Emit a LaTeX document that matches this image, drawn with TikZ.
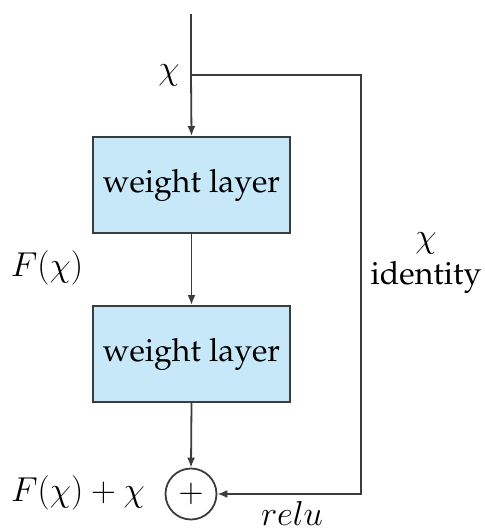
\documentclass[tikz,border=0pt]{standalone}
\usepackage[T1]{fontenc}
\renewcommand{\rmdefault}{ppl}
\usetikzlibrary{arrows.meta}
\definecolor{boxfill}{RGB}{199,232,248}
\definecolor{linegray}{RGB}{60,60,60}
\begin{document}
\begin{tikzpicture}[x=0.5pt,y=-0.5pt,
  conn/.style={draw=linegray,line width=0.9pt},
  arr/.style={conn,-{Latex[length=5pt,width=4pt]}},
  wbox/.style={draw=linegray,line width=1pt,fill=boxfill,minimum width=98.5pt,minimum height=48pt,inner sep=0pt,font=\fontsize{16}{18}\selectfont},
  sumnode/.style={draw=linegray,line width=0.9pt,circle,minimum size=25.5pt,inner sep=0pt,font=\fontsize{17}{19}\selectfont},
  lbl/.style={font=\fontsize{17}{19}\selectfont,inner sep=0pt}]
\useasboundingbox (0,0) rectangle (484,530);
\coordinate (top) at (191,14);
\coordinate (j) at (191,75);
\coordinate (tr) at (361,75);
\coordinate (br) at (361,494);
\node[wbox] (b1) at (191.5,185) {weight layer};
\node[wbox] (b2) at (191.5,354) {weight layer};
\node[sumnode] (s) at (191,494) {$+$};
\draw[conn] (top) -- (j);
\draw[arr] (j) -- (b1.north);
\draw[arr] (b1.south) -- (b2.north);
\draw[arr] (b2.south) -- (s.north);
\draw[arr] (j) -- (tr) -- (br) -- (s.east);
\node[lbl,anchor=east] (xl) at (180,75) {$\chi$};
\node[lbl] (fl) at (47,268) {$F(\chi)$};
\node[lbl] (fs) at (78,493) {$F(\chi)+\chi$};
\node[lbl] (xi) at (426,243) {$\chi$};
\node[lbl,font=\fontsize{16}{18}\selectfont] (id) at (426,277) {identity};
\node[lbl] (relu) at (292,513) {$relu$};
\end{tikzpicture}
\end{document}
